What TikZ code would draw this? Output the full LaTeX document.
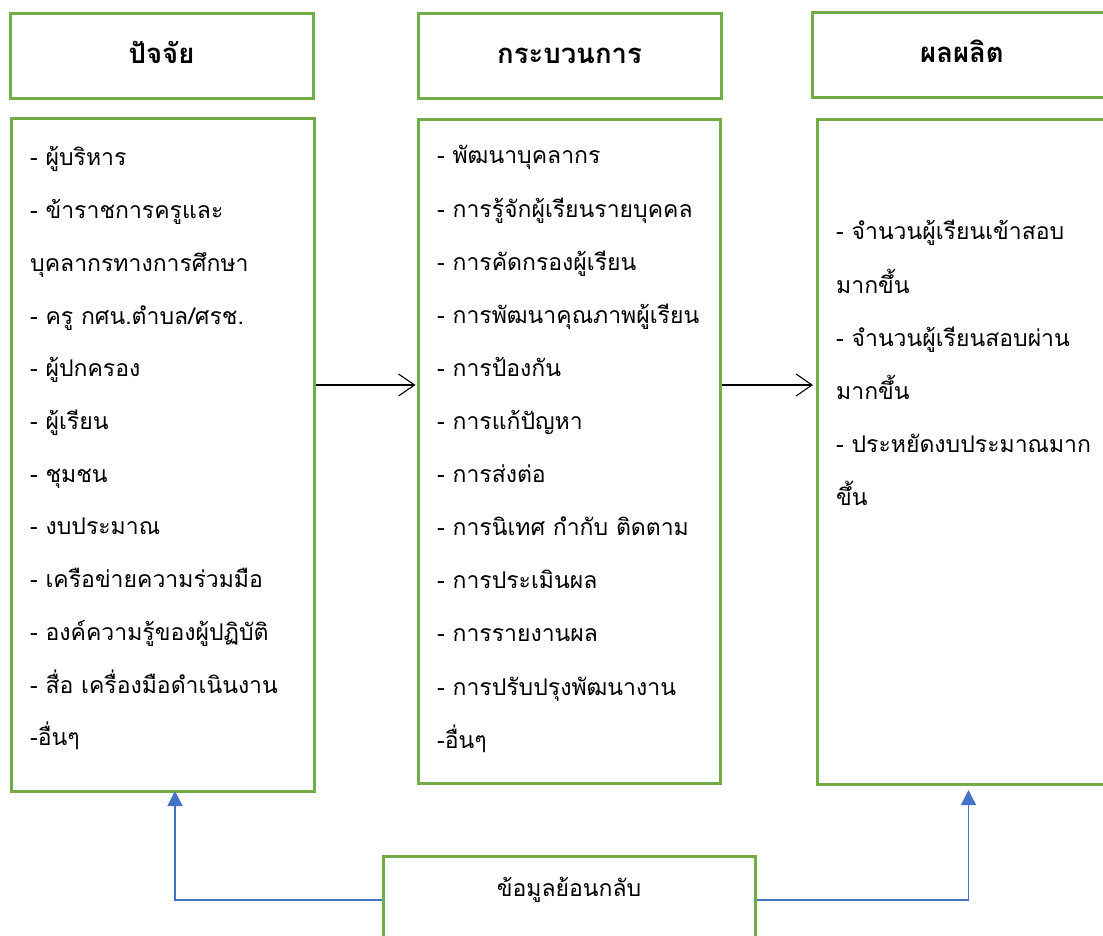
\documentclass[tikz,border=0pt]{standalone}
\usepackage{fontspec}
\newfontfamily\thai[Script=Thai]{Loma}
\usetikzlibrary{arrows.meta}
\definecolor{boxgreen}{HTML}{70AD47}
\definecolor{fbblue}{HTML}{4472C4}
\tikzset{
  gbox/.style={draw=boxgreen, line width=3pt, fill=white},
  head/.style={font=\thai\bfseries\fontsize{27.5}{32}\selectfont, anchor=base, inner sep=0pt},
  item/.style={font=\thai\fontsize{23}{27}\selectfont, anchor=base west, inner sep=0pt},
  flow/.style={line width=1.1pt, -{Straight Barb[length=16pt,width=22pt,line width=1.1pt]}},
  fb/.style={draw=fbblue, line width=1.3pt, -{Triangle[length=15pt,width=15pt]}, fbblue}
}
\begin{document}
\begin{tikzpicture}[x=1pt,y=-1pt]
\useasboundingbox (0,0) rectangle (1103,936);
\clip (0,0) rectangle (1103,936);
% headers
\draw[gbox] (10,14) rectangle (313,99);
\draw[gbox] (418,14) rectangle (721,99);
\draw[gbox] (812,13) rectangle (1114,98);
\node[head] (h1) at (161.5,64) {ปัจจัย};
\node[head] (h2) at (569.5,64) {กระบวนการ};
\node[head] (h3) at (962,63) {ผลผลิต};
% bodies
\node[gbox, minimum width=303pt, minimum height=672pt, inner sep=0pt, anchor=north west] (b1) at (10,117.5) {};
\node[gbox, minimum width=302pt, minimum height=664pt, inner sep=0pt, anchor=north west] (b2) at (416.5,118) {};
\node[gbox, minimum width=300pt, minimum height=665pt, inner sep=0pt, anchor=north west] (b3) at (816,118) {};
% feedback box
\node[gbox, minimum width=372pt, minimum height=88pt, inner sep=0pt] (fbk) at (569,900) {};
\node[item, anchor=base] (fbt) at (569,896) {ข้อมูลย้อนกลับ};
% texts box 1
\foreach \t [count=\i] in {- ผู้บริหาร,- ข้าราชการครูและ,บุคลากรทางการศึกษา,- ครู กศน.ตำบล/ศรช.,- ผู้ปกครอง,- ผู้เรียน,- ชุมชน,- งบประมาณ,- เครือข่ายความร่วมมือ,- องค์ความรู้ของผู้ปฏิบัติ,- สื่อ เครื่องมือดำเนินงาน,-อื่นๆ}
  \node[item] (a\i) at (30,{166+52.7*(\i-1)}) {\t};
% texts box 2
\foreach \t [count=\i] in {- พัฒนาบุคลากร,- การรู้จักผู้เรียนรายบุคคล,- การคัดกรองผู้เรียน,- การพัฒนาคุณภาพผู้เรียน,- การป้องกัน,- การแก้ปัญหา,- การส่งต่อ,- การนิเทศ กำกับ ติดตาม,- การประเมินผล,- การรายงานผล,- การปรับปรุงพัฒนางาน,-อื่นๆ}
  \node[item] (p\i) at (437,{164+53.1*(\i-1)}) {\t};
% texts box 3
\foreach \t [count=\i] in {- จำนวนผู้เรียนเข้าสอบ,มากขึ้น,- จำนวนผู้เรียนสอบผ่าน,มากขึ้น,- ประหยัดงบประมาณมาก,ขึ้น}
  \node[item] (o\i) at (836,{240+53*(\i-1)}) {\t};
% flow arrows
\coordinate (ay) at (0,385);
\draw[flow] (b1.east |- ay) -- ([xshift=-1pt]b2.west |- ay);
\draw[flow] (b2.east |- ay) -- ([xshift=-3pt]b3.west |- ay);
% feedback arrows
\coordinate (lt) at (175,791);
\coordinate (rt) at (968.5,790);
\draw[fb] (fbk.west) -| (lt);
\draw[fb] (fbk.east) -| (rt);
\end{tikzpicture}
\end{document}
